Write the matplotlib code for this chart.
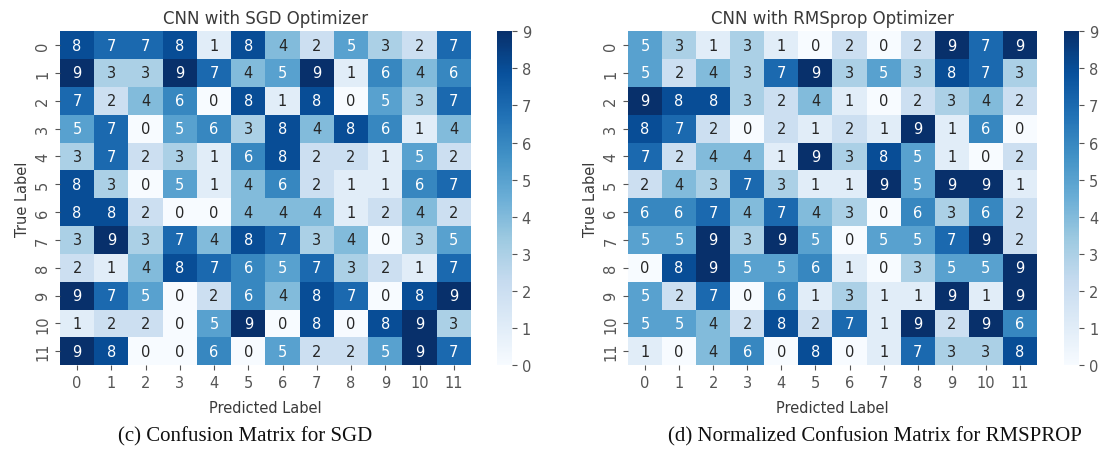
import numpy as np
import seaborn as sns
import matplotlib.pyplot as plt

# confusion matrices (rows = true, cols = predicted)
sgd_matrix = [
    [8, 7, 7, 8, 1, 8, 4, 2, 5, 3, 2, 7],
    [9, 3, 3, 9, 7, 4, 5, 9, 1, 6, 4, 6],
    [7, 2, 4, 6, 0, 8, 1, 8, 0, 5, 3, 7],
    [5, 7, 0, 5, 6, 3, 8, 4, 8, 6, 1, 4],
    [3, 7, 2, 3, 1, 6, 8, 2, 2, 1, 5, 2],
    [8, 3, 0, 5, 1, 4, 6, 2, 1, 1, 6, 7],
    [8, 8, 2, 0, 0, 4, 4, 4, 1, 2, 4, 2],
    [3, 9, 3, 7, 4, 8, 7, 3, 4, 0, 3, 5],
    [2, 1, 4, 8, 7, 6, 5, 7, 3, 2, 1, 7],
    [9, 7, 5, 0, 2, 6, 4, 8, 7, 0, 8, 9],
    [1, 2, 2, 0, 5, 9, 0, 8, 0, 8, 9, 3],
    [9, 8, 0, 0, 6, 0, 5, 2, 2, 5, 9, 7],
]

rmsprop_matrix = [
    [5, 3, 1, 3, 1, 0, 2, 0, 2, 9, 7, 9],
    [5, 2, 4, 3, 7, 9, 3, 5, 3, 8, 7, 3],
    [9, 8, 8, 3, 2, 4, 1, 0, 2, 3, 4, 2],
    [8, 7, 2, 0, 2, 1, 2, 1, 9, 1, 6, 0],
    [7, 2, 4, 4, 1, 9, 3, 8, 5, 1, 0, 2],
    [2, 4, 3, 7, 3, 1, 1, 9, 5, 9, 9, 1],
    [6, 6, 7, 4, 7, 4, 3, 0, 6, 3, 6, 2],
    [5, 5, 9, 3, 9, 5, 0, 5, 5, 7, 9, 2],
    [0, 8, 9, 5, 5, 6, 1, 0, 3, 5, 5, 9],
    [5, 2, 7, 0, 6, 1, 3, 1, 1, 9, 1, 9],
    [5, 5, 4, 2, 8, 2, 7, 1, 9, 2, 9, 6],
    [1, 0, 4, 6, 0, 8, 0, 1, 7, 3, 3, 8],
]

class_labels = [str(i) for i in range(12)]
titles = ["CNN with SGD Optimizer", "CNN with RMSprop Optimizer"]
captions = ["(c) Confusion Matrix for SGD",
            "(d) Normalized Confusion Matrix for RMSPROP"]

text_color = "#3a3a3a"
plt.rcParams["font.family"] = ["DejaVu Sans"]
plt.rcParams["text.color"] = text_color
plt.rcParams["axes.labelcolor"] = text_color
plt.rcParams["xtick.color"] = "#555555"
plt.rcParams["ytick.color"] = "#555555"

fig = plt.figure(figsize=(11, 4.6), dpi=100)

# [heatmap axes, colorbar axes] in figure fractions
layout = [
    ([0.0545, 0.204, 0.3736, 0.726], [0.4518, 0.204, 0.0136, 0.726]),
    ([0.5709, 0.204, 0.3718, 0.726], [0.9673, 0.204, 0.0140, 0.726]),
]
caption_x = [0.223, 0.795]

for i, matrix in enumerate([sgd_matrix, rmsprop_matrix]):
    ax = fig.add_axes(layout[i][0])
    cax = fig.add_axes(layout[i][1])
    sns.heatmap(np.array(matrix), annot=True, fmt="d", cmap="Blues",
                vmin=0, vmax=9, ax=ax, cbar_ax=cax,
                xticklabels=class_labels, yticklabels=class_labels,
                annot_kws={"fontsize": 10.5})
    ax.set_title(titles[i], fontsize=12, pad=6)
    ax.set_xlabel("Predicted Label", fontsize=10.5, labelpad=7)
    ax.set_ylabel("True Label", fontsize=10.5)
    ax.tick_params(axis="both", labelsize=10.5)
    ax.set_yticklabels(class_labels, rotation=90, va="center")
    ax.set_xticklabels(class_labels, rotation=0)
    cax.tick_params(labelsize=10.5)
    cax.set_yticks(range(10))

    fig.text(caption_x[i], 0.05, captions[i], ha="center", va="center",
             fontsize=15, family="Liberation Serif", color="#111111")

fig.savefig("out.png", dpi=100)
